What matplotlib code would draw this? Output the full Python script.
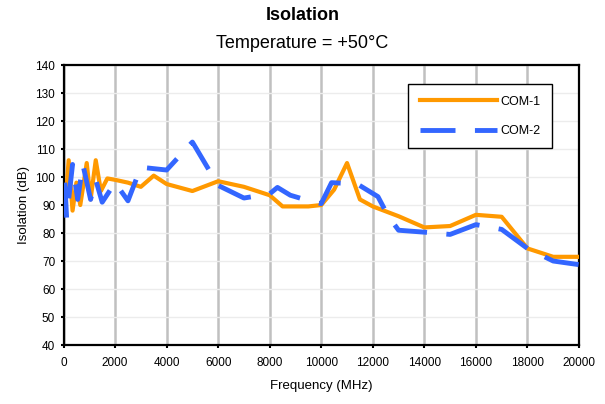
import matplotlib
matplotlib.use("Agg")
import matplotlib.pyplot as plt

plt.rcParams['font.family'] = ['Liberation Sans', 'DejaVu Sans']

# COM-1 (MHz, dB)
freq_com1 = [50, 200, 350, 500, 650, 900, 1050, 1250, 1450, 1700, 2000, 2500, 3000, 3500,
             4000, 5000, 6000, 7000, 8000, 8500, 9500, 10000, 10500, 11000, 11500, 12000,
             13000, 14000, 15000, 16000, 17000, 18000, 19000, 20000]
iso_com1 = [88, 106, 88, 98, 90, 105, 92, 106, 95, 99.5, 99, 98, 96.5, 100.5,
            97.5, 95, 98.5, 96.5, 93.5, 89.5, 89.5, 90, 95.5, 105, 92, 89.5,
            86, 82, 82.5, 86.5, 85.8, 74.5, 71.5, 71.5]

# COM-2 (MHz, dB)
freq_com2 = [50, 120, 350, 550, 750, 1050, 1250, 1500, 2000, 2500, 3000, 4000, 5000, 6000,
             7000, 8000, 8300, 8800, 9600, 10000, 10400, 11400, 12200, 12600, 13000, 14000,
             15000, 16000, 17000, 18000, 19000, 20000]
iso_com2 = [98, 85.5, 104.5, 92, 104.5, 92, 99, 91, 98, 91.5, 103.5, 102.5, 112.5, 97,
            92.5, 94, 96.3, 93.5, 91.3, 90.5, 98, 97.5, 93, 86, 81, 80.3,
            79.5, 83, 81.3, 74.5, 70, 68.7]

fig = plt.figure(figsize=(6.05, 4.04), dpi=100)
ax = fig.add_axes([0.105, 0.146, 0.852, 0.693])

ax.plot(freq_com1, iso_com1, color='#FF9900', lw=3, label='COM-1', zorder=3)
ax.plot(freq_com2, iso_com2, color='#3366FF', lw=3.5, dashes=(7.2, 4), label='COM-2', zorder=4)

ax.set_xlim(0, 20000)
ax.set_ylim(40, 140)
ax.set_xticks(range(0, 20001, 2000))
ax.set_yticks(range(40, 141, 10))
ax.tick_params(labelsize=8.5, direction='out', length=2.5, width=1.5)
ax.tick_params(axis='x', pad=6)
ax.xaxis.grid(True, color='#c0c0c0', lw=1.8)
ax.yaxis.grid(True, color='#ececec', lw=1)
ax.set_axisbelow(True)
for s in ax.spines.values():
    s.set_linewidth(1.6)

ax.set_xlabel('Frequency (MHz)', fontsize=9.5, labelpad=8)
ax.set_ylabel('Isolation (dB)', fontsize=9.5)

fig.text(0.5, 0.962, 'Isolation', ha='center', va='center', fontsize=13, fontweight='bold')
fig.text(0.5, 0.893, 'Temperature = +50°C', ha='center', va='center', fontsize=13)

leg = ax.legend(loc='upper right', bbox_to_anchor=(0.948, 0.931), borderaxespad=0,
                fontsize=9, handlelength=6.2, handletextpad=0.3, labelspacing=1.4,
                fancybox=False, framealpha=1, edgecolor='black', borderpad=0.9)
leg.get_frame().set_linewidth(1)

fig.savefig('out.png', dpi=100)
